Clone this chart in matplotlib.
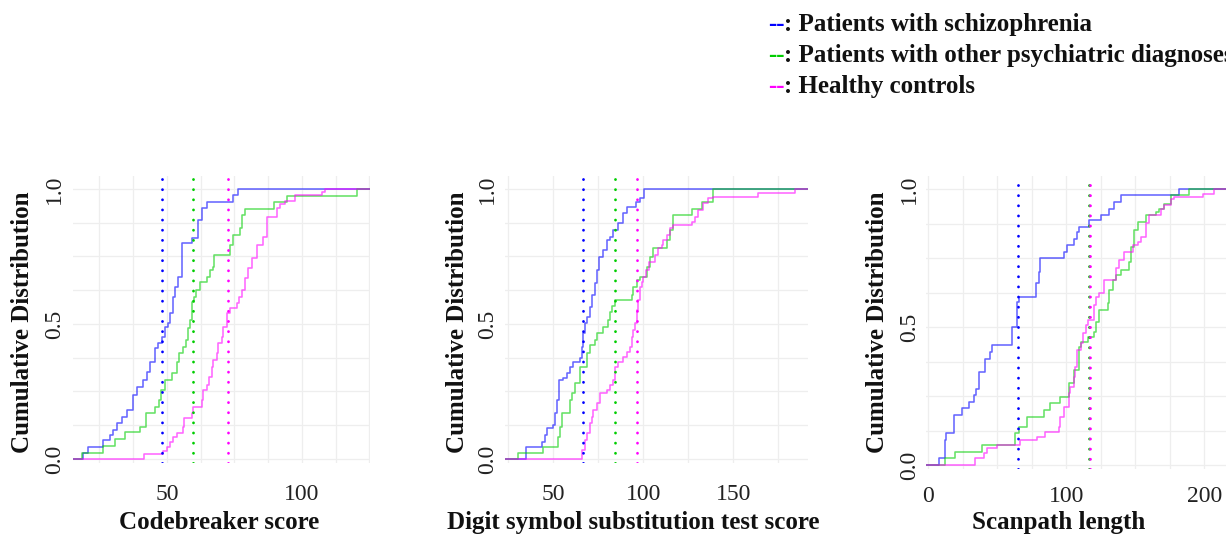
import numpy as np
import matplotlib.pyplot as plt

# ---- data: ECDF jump points (x value, cumulative proportion) ----
# Codebreaker score
cb_sz_x = [18.8, 20.9, 26.2, 28.9, 30.1, 31.4, 33.4, 35.1, 37.5, 38.8, 41.2, 42.5, 43.7, 45.6, 46.8,
           48.0, 49.3, 50.5, 51.1, 52.3, 53.0, 54.2, 55.4, 59.1, 61.6, 62.8, 64.7, 74.6, 76.4]
cb_sz_y = [0.023, 0.046, 0.070, 0.089, 0.107, 0.135, 0.157, 0.181, 0.237, 0.268, 0.293, 0.323, 0.360,
           0.410, 0.428, 0.453, 0.490, 0.502, 0.54, 0.60, 0.638, 0.675, 0.80, 0.817, 0.885, 0.928,
           0.953, 0.978, 1.0]
cb_ot_x = [18.4, 26.2, 30.7, 34.4, 40.0, 42.2, 45.6, 47.2, 47.7, 49.3, 51.7, 53.6, 54.6, 56.0, 57.0,
           57.9, 58.5, 59.1, 60.0, 60.7, 62.2, 64.7, 65.9, 66.9, 67.4, 73.3, 74.6, 77.0, 77.7, 78.9,
           89.7, 94.3, 120.3]
cb_ot_y = [0.023, 0.048, 0.073, 0.098, 0.12, 0.169, 0.194, 0.219, 0.256, 0.293, 0.317, 0.36, 0.391,
           0.416, 0.44, 0.484, 0.515, 0.583, 0.60, 0.626, 0.657, 0.675, 0.70, 0.712, 0.755, 0.793,
           0.83, 0.854, 0.904, 0.925, 0.953, 0.974, 1.0]
cb_hc_x = [41.5, 48.4, 49.9, 51.1, 52.3, 53.8, 56.0, 56.3, 59.1, 59.5, 62.8, 63.5, 64.7, 65.7, 66.5,
           67.2, 68.4, 69.0, 70.3, 70.9, 72.1, 73.3, 75.8, 76.7, 77.7, 78.9, 80.1, 81.4, 83.2, 85.7,
           86.9, 90.6, 91.9, 93.7, 97.4, 107.3, 108.5]
cb_hc_y = [0.02, 0.031, 0.046, 0.064, 0.083, 0.095, 0.12, 0.15, 0.169, 0.194, 0.219, 0.256, 0.274,
           0.305, 0.342, 0.367, 0.391, 0.428, 0.453, 0.49, 0.54, 0.558, 0.577, 0.60, 0.626, 0.669,
           0.706, 0.743, 0.793, 0.824, 0.898, 0.931, 0.944, 0.956, 0.978, 0.99, 1.0]
cb_medians = [48.2, 59.5, 72.6]

# Digit symbol substitution test score
ds_sz_x = [34.8, 43.6, 45.4, 46.3, 50.0, 50.9, 51.9, 53.3, 55.6, 57.4, 59.3, 61.1, 64.8, 65.8, 66.7,
           67.6, 68.9, 70.4, 71.3, 73.2, 74.1, 75.6, 77.8, 79.7, 81.5, 83.3, 86.1, 88.9, 90.8, 95.9,
           98.2, 100.4]
ds_sz_y = [0.046, 0.064, 0.089, 0.114, 0.126, 0.169, 0.219, 0.293, 0.299, 0.317, 0.342, 0.36, 0.373,
           0.416, 0.465, 0.502, 0.527, 0.564, 0.607, 0.651, 0.70, 0.749, 0.774, 0.811, 0.823, 0.848,
           0.873, 0.91, 0.934, 0.953, 0.965, 1.0]
ds_ot_x = [30.6, 44.4, 52.8, 53.7, 54.6, 59.3, 60.2, 62.0, 64.8, 68.5, 70.4, 73.2, 74.1, 77.8, 80.6,
           81.5, 82.4, 84.3, 93.5, 94.4, 96.3, 98.2, 101.9, 103.7, 105.6, 113.0, 114.8, 116.7, 126.9,
           132.4, 138.9]
ds_ot_y = [0.023, 0.046, 0.083, 0.12, 0.169, 0.219, 0.243, 0.28, 0.342, 0.391, 0.422, 0.44, 0.465,
           0.49, 0.515, 0.545, 0.565, 0.589, 0.607, 0.638, 0.663, 0.675, 0.712, 0.749, 0.78, 0.811,
           0.848, 0.904, 0.925, 0.953, 1.0]
ds_hc_x = [65.8, 67.6, 68.9, 70.4, 71.3, 72.2, 74.1, 75.9, 79.7, 81.5, 83.3, 84.3, 86.1, 88.9, 90.8,
           92.6, 93.5, 94.4, 95.4, 96.3, 97.2, 98.2, 99.1, 100.0, 101.5, 103.0, 106.5, 108.3, 110.2,
           111.1, 113.0, 114.8, 116.7, 126.9, 128.7, 130.6, 133.3, 136.1, 138.9, 163.9, 184.3]
ds_hc_y = [0.033, 0.07, 0.095, 0.132, 0.157, 0.181, 0.206, 0.243, 0.256, 0.274, 0.293, 0.342, 0.36,
           0.379, 0.397, 0.416, 0.453, 0.478, 0.502, 0.552, 0.589, 0.638, 0.657, 0.675, 0.70, 0.731,
           0.755, 0.78, 0.793, 0.811, 0.83, 0.854, 0.867, 0.879, 0.898, 0.922, 0.947, 0.965, 0.971,
           0.984, 1.0]
ds_medians = [66.7, 84.3, 96.3]

# Scanpath length
sp_sz_x = [8.0, 11.9, 12.8, 18.4, 24.4, 29.3, 32.9, 34.6, 36.5, 41.3, 44.9, 46.2, 60.7, 64.3, 65.5,
           78.0, 80.0, 81.2, 98.1, 100.5, 105.4, 107.8, 109.4, 116.7, 125.1, 131.2, 134.8, 139.6, 181.9]
sp_sz_y = [0.024, 0.091, 0.115, 0.181, 0.205, 0.229, 0.253, 0.277, 0.338, 0.386, 0.41, 0.435, 0.501,
           0.592, 0.61, 0.66, 0.70, 0.749, 0.773, 0.797, 0.821, 0.845, 0.863, 0.888, 0.908, 0.93,
           0.954, 0.978, 1.0]
sp_ot_x = [12.3, 19.6, 38.9, 63.0, 65.5, 71.5, 83.6, 88.4, 95.7, 101.7, 105.4, 109.4, 110.6, 115.5,
           120.3, 121.5, 123.9, 130.0, 131.2, 133.6, 136.0, 139.6, 145.7, 146.9, 149.3, 151.7, 157.8,
           165.0, 167.4, 171.0, 175.9, 189.1]
sp_ot_y = [0.024, 0.048, 0.072, 0.115, 0.139, 0.175, 0.199, 0.223, 0.247, 0.296, 0.344, 0.429, 0.447,
           0.465, 0.483, 0.519, 0.562, 0.586, 0.634, 0.67, 0.688, 0.707, 0.737, 0.791, 0.851, 0.882,
           0.906, 0.918, 0.93, 0.948, 0.978, 1.0]
sp_hc_x = [34.1, 40.1, 42.5, 49.8, 66.7, 78.8, 84.8, 94.5, 95.7, 98.1, 101.7, 102.9, 105.4, 106.5,
           107.8, 110.6, 111.9, 114.3, 115.5, 120.3, 121.5, 123.9, 127.5, 136.0, 138.4, 142.0, 148.1,
           151.7, 154.1, 157.8, 160.1, 168.6, 171.0, 175.9, 178.3, 198.8, 207.2]
sp_hc_y = [0.024, 0.042, 0.06, 0.072, 0.091, 0.103, 0.121, 0.139, 0.175, 0.211, 0.26, 0.284, 0.32,
           0.356, 0.417, 0.441, 0.477, 0.507, 0.525, 0.58, 0.61, 0.622, 0.67, 0.713, 0.743, 0.773,
           0.797, 0.809, 0.827, 0.876, 0.906, 0.93, 0.942, 0.966, 0.972, 0.984, 1.0]
sp_medians = [64.9, 116.5, 117.5]

group_labels = ['Patients with schizophrenia', 'Patients with other psychiatric diagnoses',
                'Healthy controls']
line_colors = ['#0000FF', '#00CD00', '#FF00FF']

W, H = 1226, 534
SERIF = 'Liberation Serif'


def box(left, right, top, bottom):
    # pixel box -> figure fraction
    return [left / W, 1 - bottom / H, (right - left) / W, (bottom - top) / H]


def draw_panel(ax, curves, medians, xlim, ticks, grid_x, pad_x, pad_y):
    for (xs, ys), color in zip(curves, line_colors):
        x = [xlim[0]] + xs + [xlim[1]]
        y = [0.0] + ys + [ys[-1]]
        ax.step(x, y, where='post', color=color, lw=1.15, alpha=0.6)
    for m, color in zip(medians, line_colors):
        ax.axvline(m, color=color, lw=2.0, linestyle=(0, (0.05, 3.6)), dash_capstyle='round')

    ax.set_xlim(*xlim)
    ax.set_ylim(-0.015, 1.05)
    ax.set_xticks(ticks)
    ax.set_xticks(grid_x, minor=True)
    ax.set_yticks([0, 0.5, 1.0])
    ax.set_yticklabels(['0.0', '0.5', '1.0'])
    ax.set_yticks(np.arange(0, 1.01, 0.125), minor=True)
    ax.grid(True, which='both', color='#EEEEEE', lw=0.9)
    ax.set_axisbelow(True)
    for s in ax.spines.values():
        s.set_visible(False)
    ax.tick_params(which='both', length=0)
    ax.tick_params(axis='x', pad=pad_x, labelsize=17, labelcolor='#222222')
    ax.tick_params(axis='y', pad=pad_y, labelsize=17, labelcolor='#222222', labelrotation=90)
    for lab in ax.get_yticklabels():
        lab.set_va('center')
    for lab in ax.get_xticklabels() + ax.get_yticklabels():
        lab.set_family(SERIF)


plt.rcParams['font.family'] = SERIF
fig = plt.figure(figsize=(W / 100, H / 100), dpi=100)

ax1 = fig.add_axes(box(73, 370, 175.5, 463))
draw_panel(ax1, [(cb_sz_x, cb_sz_y), (cb_ot_x, cb_ot_y), (cb_hc_x, cb_hc_y)], cb_medians,
           (15.2, 125.2), [50, 100], np.arange(25, 125.1, 12.5), 15, 5.9)
ax2 = fig.add_axes(box(505, 808, 175.5, 463))
draw_panel(ax2, [(ds_sz_x, ds_sz_y), (ds_ot_x, ds_ot_y), (ds_hc_x, ds_hc_y)], ds_medians,
           (23.2, 191.5), [50, 100, 150], np.arange(25, 191, 25), 15, 5.2)
ax3 = fig.add_axes(box(926, 1226, 175.5, 469.1))
draw_panel(ax3, [(sp_sz_x, sp_sz_y), (sp_ot_x, sp_ot_y), (sp_hc_x, sp_hc_y)], sp_medians,
           (-1.7, 215.7), [0, 100, 200], np.arange(0, 215, 25), 12, 4.1)

# axis titles
xlabels = ['Codebreaker score', 'Digit symbol substitution test score', 'Scanpath length']
xlabel_cx = [219, 633, 1059]
ylabel_cx = [23, 457, 878]
for i in range(3):
    fig.text(xlabel_cx[i] / W, 1 - 529 / H, xlabels[i], ha='center', va='baseline',
             fontsize=18, fontweight='bold', color='#111111')
    fig.text(ylabel_cx[i] / W, 1 - 322.5 / H, 'Cumulative Distribution', rotation=90,
             ha='center', va='center', fontsize=18, fontweight='bold', color='#111111')

# legend written as text at the top
legend_base = [31, 62, 93]
for label, color, yb in zip(group_labels, line_colors, legend_base):
    fig.text(768 / W, 1 - yb / H, '--', color=color, fontsize=18, fontweight='bold', va='baseline')
    fig.text(784 / W, 1 - yb / H, ': ' + label, color='#111111', fontsize=18, fontweight='bold',
             va='baseline')

fig.savefig('out.png', dpi=100)
